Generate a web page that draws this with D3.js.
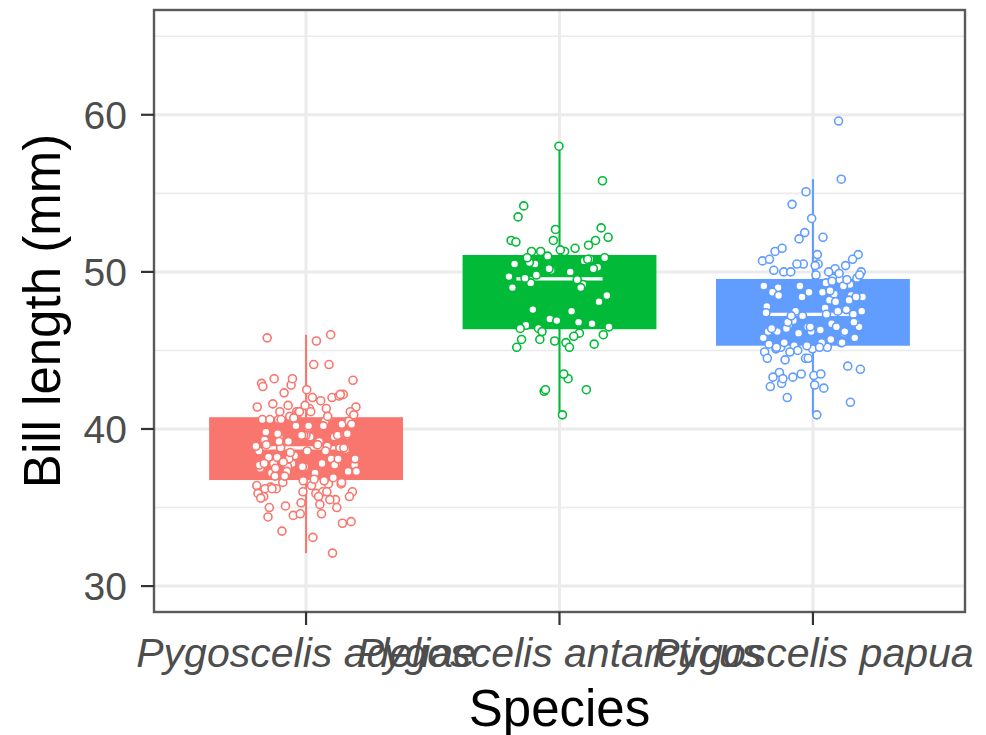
<!DOCTYPE html>
<html lang="en">

<head>
    <meta charset="UTF-8">
    <title>Bill length by species</title>
    <style>
        body { margin: 0; background: #fff; }
        text { font-family: "Liberation Sans", Arial, sans-serif; }
    </style>
</head>

<body>
    <div id="wrapper"></div>

    <script src="https://d3js.org/d3.v7.min.js"></script>
    <script>
        // data (bill length in mm, per species)
        const species = ['Adelie', 'Chinstrap', 'Gentoo'];
        const speciesLabels = ['Pygoscelis adeliae', 'Pygoscelis antarcticus', 'Pygoscelis papua'];
        const speciesColors = ['#F8766D', '#00BA38', '#619CFF'];

        const adelie = [39.1, 39.5, 40.3, 36.7, 39.3, 38.9, 39.2, 34.1, 42.0, 37.8,
            37.8, 41.1, 38.6, 34.6, 36.6, 38.7, 42.5, 34.4, 46.0, 37.8,
            37.7, 35.9, 38.2, 38.8, 35.3, 40.6, 40.5, 37.9, 40.5, 39.5,
            37.2, 39.5, 40.9, 36.4, 39.2, 38.8, 42.2, 37.6, 39.8, 36.5,
            40.8, 36.0, 44.1, 37.0, 39.6, 41.1, 37.5, 36.0, 42.3, 39.6,
            40.1, 35.0, 42.0, 34.5, 41.4, 39.0, 40.6, 36.5, 37.6, 35.7,
            41.3, 37.6, 41.1, 36.4, 41.6, 35.5, 41.1, 35.9, 41.8, 33.5,
            39.7, 39.6, 45.8, 35.5, 42.8, 40.9, 37.2, 36.2, 42.1, 34.6,
            42.9, 36.7, 35.1, 37.3, 41.3, 36.3, 36.9, 38.3, 38.9, 35.7,
            41.1, 34.0, 39.6, 36.2, 40.8, 38.1, 40.3, 33.1, 43.2, 35.0,
            41.0, 37.7, 37.8, 37.9, 39.7, 38.6, 38.2, 38.1, 43.2, 38.1,
            45.6, 39.7, 42.2, 39.6, 42.7, 38.6, 37.3, 35.7, 41.1, 36.2,
            37.7, 40.2, 41.4, 35.2, 40.6, 38.8, 41.5, 39.0, 44.1, 38.5,
            43.1, 36.8, 37.5, 38.1, 41.1, 35.6, 40.2, 37.0, 39.7, 40.2,
            40.6, 32.1, 40.7, 37.3, 39.0, 39.2, 36.6, 36.0, 37.8, 36.0,
            41.5];

        const chinstrap = [46.5, 50.0, 51.3, 45.4, 52.7, 45.2, 46.1, 51.3, 46.0, 51.3,
            46.6, 51.7, 47.0, 52.0, 45.9, 50.5, 50.3, 58.0, 46.4, 49.2,
            42.4, 48.5, 43.2, 50.6, 46.7, 52.0, 50.5, 49.5, 46.4, 52.8,
            40.9, 54.2, 42.5, 51.0, 49.7, 47.5, 47.6, 52.0, 46.9, 53.5,
            49.0, 46.2, 50.9, 45.5, 50.9, 50.8, 50.1, 49.0, 51.5, 49.8,
            48.1, 51.4, 45.7, 50.7, 42.5, 52.2, 45.2, 49.3, 50.2, 45.6,
            51.9, 46.8, 45.7, 55.8, 43.5, 49.6, 50.8, 50.2];

        const gentoo = [46.1, 50.0, 48.7, 50.0, 47.6, 46.5, 45.4, 46.7, 43.3, 46.8,
            40.9, 49.0, 45.5, 48.4, 45.8, 49.3, 42.0, 49.2, 46.2, 48.7,
            50.2, 45.1, 46.5, 46.3, 42.9, 46.1, 44.5, 47.8, 48.2, 50.0,
            47.3, 42.8, 45.1, 59.6, 49.1, 48.4, 42.6, 44.4, 44.0, 48.7,
            42.7, 49.6, 45.3, 49.6, 50.5, 43.6, 45.5, 50.5, 44.9, 45.2,
            46.6, 48.5, 45.1, 50.1, 46.5, 45.0, 43.8, 45.5, 43.2, 50.4,
            45.3, 46.2, 45.7, 54.3, 45.8, 49.8, 46.2, 49.5, 43.5, 50.7,
            47.7, 46.4, 48.2, 46.5, 46.4, 48.6, 47.5, 51.1, 45.2, 45.2,
            49.1, 52.5, 47.4, 50.0, 44.9, 50.8, 43.4, 51.3, 47.5, 52.1,
            47.5, 52.2, 45.5, 49.5, 44.5, 50.8, 49.4, 46.9, 48.4, 51.1,
            48.5, 55.9, 47.2, 49.1, 47.3, 46.8, 41.7, 53.4, 43.3, 48.1,
            50.5, 49.8, 43.5, 51.5, 46.2, 55.1, 44.5, 48.8, 47.2, 46.8,
            50.4, 45.2, 49.9];

        const yTicks = [30, 40, 50, 60];
        const yMinorTicks = [35, 45, 55, 65];
        const yDomain = [28.35, 66.67];

        const groups = [adelie, chinstrap, gentoo];

        // 畫布
        const svgwidth = 986,
            svgheight = 735,
            panel = { left: 154, right: 965, top: 10, bottom: 612 };

        const svg = d3.select('#wrapper').append('svg')
            .attr('width', svgwidth)
            .attr('height', svgheight);

        // 比例: discrete x with 0.6 expansion each side
        const xScale = d3.scaleLinear()
            .domain([0.4, species.length + 0.6])
            .range([panel.left, panel.right]);
        const yScale = d3.scaleLinear()
            .domain(yDomain)
            .range([panel.bottom, panel.top]);

        const boxWidth = 0.765,
            medianWidth = 0.34,
            jitterWidth = 0.2;

        function drawGrid() {
            const grid = svg.append('g').attr('class', 'grid');
            grid.selectAll('.minor')
                .data(yMinorTicks)
                .join('line')
                .attr('x1', panel.left).attr('x2', panel.right)
                .attr('y1', d => yScale(d)).attr('y2', d => yScale(d))
                .attr('stroke', '#EBEBEB').attr('stroke-width', 1.6);
            grid.selectAll('.major-y')
                .data(yTicks)
                .join('line')
                .attr('x1', panel.left).attr('x2', panel.right)
                .attr('y1', d => yScale(d)).attr('y2', d => yScale(d))
                .attr('stroke', '#EBEBEB').attr('stroke-width', 3);
            grid.selectAll('.major-x')
                .data(species)
                .join('line')
                .attr('x1', (d, i) => xScale(i + 1)).attr('x2', (d, i) => xScale(i + 1))
                .attr('y1', panel.top).attr('y2', panel.bottom)
                .attr('stroke', '#EBEBEB').attr('stroke-width', 3);
        }

        function boxStats(values) {
            const v = values.slice().sort(d3.ascending);
            const q1 = d3.quantile(v, 0.25),
                med = d3.quantile(v, 0.5),
                q3 = d3.quantile(v, 0.75),
                iqr = q3 - q1;
            const lo = d3.min(v.filter(d => d >= q1 - 1.5 * iqr)),
                hi = d3.max(v.filter(d => d <= q3 + 1.5 * iqr));
            return { q1, med, q3, lo, hi };
        }

        function drawBoxes() {
            const g = svg.append('g').attr('class', 'boxes');
            groups.forEach((values, i) => {
                const s = boxStats(values),
                    cx = xScale(i + 1),
                    color = speciesColors[i];

                // whisker
                g.append('line')
                    .attr('x1', cx).attr('x2', cx)
                    .attr('y1', yScale(s.lo)).attr('y2', yScale(s.hi))
                    .attr('stroke', color).attr('stroke-width', 2);

                // box
                g.append('rect')
                    .attr('x', xScale(i + 1 - boxWidth / 2))
                    .attr('width', xScale(i + 1 + boxWidth / 2) - xScale(i + 1 - boxWidth / 2))
                    .attr('y', yScale(s.q3))
                    .attr('height', yScale(s.q1) - yScale(s.q3))
                    .attr('fill', color);

                // median
                g.append('line')
                    .attr('x1', xScale(i + 1 - medianWidth / 2))
                    .attr('x2', xScale(i + 1 + medianWidth / 2))
                    .attr('y1', yScale(s.med)).attr('y2', yScale(s.med))
                    .attr('stroke', '#fff').attr('stroke-width', 3.2);
            });
        }

        function drawPoints() {
            const g = svg.append('g').attr('class', 'points');
            groups.forEach((values, i) => {
                // 水平散佈: golden-ratio sequence, deterministic spread
                g.selectAll('.pt-' + i)
                    .data(values)
                    .join('circle')
                    .attr('cx', (d, j) => {
                        const u = ((j + 1) * 0.6180339887 + i * 0.37) % 1;
                        return xScale(i + 1 + (2 * u - 1) * jitterWidth);
                    })
                    .attr('cy', d => yScale(d))
                    .attr('r', 4)
                    .attr('fill', '#fff')
                    .attr('stroke', speciesColors[i])
                    .attr('stroke-width', 1.6);
            });
        }

        function drawAxes() {
            const axes = svg.append('g').attr('class', 'axes');

            // panel border
            axes.append('rect')
                .attr('x', panel.left).attr('y', panel.top)
                .attr('width', panel.right - panel.left)
                .attr('height', panel.bottom - panel.top)
                .attr('fill', 'none')
                .attr('stroke', '#5a5a5a').attr('stroke-width', 2.4);

            // Y ticks
            const yt = axes.selectAll('.y-tick')
                .data(yTicks)
                .join('g')
                .attr('transform', d => `translate(0,${yScale(d)})`);
            yt.append('line')
                .attr('x1', panel.left - 13).attr('x2', panel.left)
                .attr('stroke', '#333').attr('stroke-width', 2.2);
            yt.append('text')
                .text(d => d)
                .attr('x', panel.left - 27)
                .attr('dy', '0.36em')
                .attr('text-anchor', 'end')
                .attr('font-size', 39)
                .attr('fill', '#4D4D4D');

            // X ticks
            const xt = axes.selectAll('.x-tick')
                .data(speciesLabels)
                .join('g')
                .attr('transform', (d, i) => `translate(${xScale(i + 1)},0)`);
            xt.append('line')
                .attr('y1', panel.bottom).attr('y2', panel.bottom + 13)
                .attr('stroke', '#333').attr('stroke-width', 2.2);
            xt.append('text')
                .text(d => d)
                .attr('y', 667)
                .attr('text-anchor', 'middle')
                .attr('font-size', 41)
                .attr('font-style', 'italic')
                .attr('fill', '#4D4D4D');

            // titles
            svg.append('text')
                .text('Species')
                .attr('x', (panel.left + panel.right) / 2)
                .attr('y', 726)
                .attr('text-anchor', 'middle')
                .attr('font-size', 51)
                .attr('fill', '#000');
            svg.append('text')
                .text('Bill length (mm)')
                .attr('transform', `translate(60,${(panel.top + panel.bottom) / 2}) rotate(-90)`)
                .attr('text-anchor', 'middle')
                .attr('font-size', 51)
                .attr('fill', '#000');
        }

        drawGrid();
        drawBoxes();
        drawPoints();
        drawAxes();
    </script>
</body>

</html>
